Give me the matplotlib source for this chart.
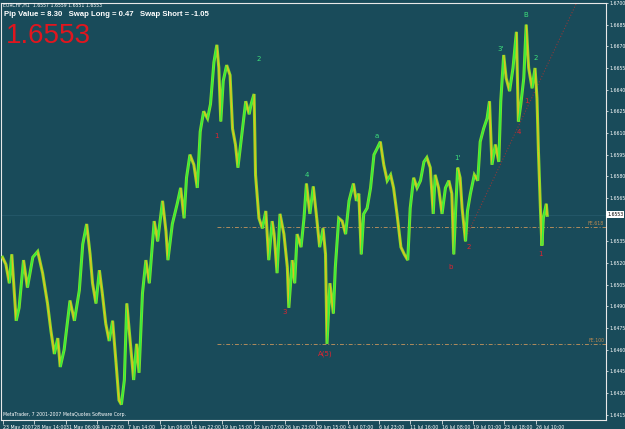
import matplotlib.pyplot as plt
from matplotlib.collections import LineCollection
import numpy as np

# EURCHF H1 price path (bar number, price)
bars = [3, 10, 17, 22, 31, 37, 46, 54, 65, 75, 85, 95, 102, 109, 116, 121, 129, 136, 141, 150,
        160, 167, 175, 182, 187, 194, 201, 207, 214, 221, 228, 235, 241, 246, 252, 257, 265, 271,
        277, 282, 289, 296, 303, 313, 320, 330, 337, 341, 350, 360, 367, 374, 379, 386, 394, 401,
        407, 414, 422, 428, 435, 441, 445, 449, 454, 461, 468, 473, 479, 484, 491, 500, 507, 511,
        517, 520, 527, 534, 541, 547, 554, 558, 564, 570, 578, 585, 588, 595, 600, 605, 613, 619,
        624, 631, 638, 645, 651, 658, 663, 666, 672, 679, 683, 690, 697, 704, 711, 720, 726, 731,
        736, 741, 748, 755, 762, 768, 775, 782, 789, 796, 802, 809, 817, 824, 831, 836, 843, 850,
        857, 864, 870, 877, 883, 887, 894, 901, 908, 915, 921, 925, 929, 933, 938, 942, 949, 953,
        959, 967, 974, 979, 986, 993, 998, 1003, 1010, 1017, 1021, 1027, 1032, 1039, 1046, 1053,
        1057, 1062, 1068, 1073, 1078, 1085, 1091, 1095, 1098, 1102, 1105, 1108, 1114, 1116]
prices = [1.6524, 1.6519, 1.6506, 1.6526, 1.6480, 1.6489, 1.6522, 1.6503, 1.6524, 1.6528,
          1.6513, 1.6492, 1.6473, 1.6457, 1.6468, 1.6448, 1.6460, 1.6480, 1.6494, 1.6480,
          1.6501, 1.6533, 1.6547, 1.6526, 1.6506, 1.6492, 1.6515, 1.6499, 1.6478, 1.6466,
          1.6480, 1.6451, 1.6425, 1.6422, 1.6439, 1.6492, 1.6462, 1.6439, 1.6464, 1.6444,
          1.6499, 1.6522, 1.6506, 1.6549, 1.6535, 1.6563, 1.6542, 1.6522, 1.6547, 1.6561,
          1.6572, 1.6551, 1.6579, 1.6595, 1.6588, 1.6572, 1.6611, 1.6625, 1.6620, 1.6630,
          1.6659, 1.6671, 1.6655, 1.6618, 1.6646, 1.6657, 1.6650, 1.6613, 1.6602, 1.6586,
          1.6606, 1.6632, 1.6623, 1.6630, 1.6637, 1.6581, 1.6551, 1.6544, 1.6556, 1.6522,
          1.6549, 1.6540, 1.6513, 1.6554, 1.6540, 1.6517, 1.6489, 1.6522, 1.6506, 1.6540,
          1.6531, 1.6551, 1.6575, 1.6554, 1.6573, 1.6551, 1.6531, 1.6544, 1.6526, 1.6464,
          1.6506, 1.6485, 1.6517, 1.6551, 1.6549, 1.6540, 1.6563, 1.6575, 1.6563, 1.6568,
          1.6526, 1.6554, 1.6558, 1.6572, 1.6595, 1.6599, 1.6604, 1.6588, 1.6577, 1.6581,
          1.6572, 1.6554, 1.6531, 1.6526, 1.6522, 1.6558, 1.6579, 1.6572, 1.6577, 1.6590,
          1.6593, 1.6586, 1.6554, 1.6581, 1.6572, 1.6554, 1.6572, 1.6577, 1.6568, 1.6526,
          1.6558, 1.6586, 1.6579, 1.6558, 1.6535, 1.6556, 1.6568, 1.6581, 1.6577, 1.6604,
          1.6613, 1.6620, 1.6632, 1.6588, 1.6602, 1.6590, 1.6632, 1.6664, 1.6648, 1.6639,
          1.6655, 1.6680, 1.6618, 1.6630, 1.6648, 1.6685, 1.6655, 1.6641, 1.6655, 1.6634,
          1.6597, 1.6558, 1.6532, 1.6551, 1.6561, 1.6553]

tick_bars = [4, 68, 132, 196, 260, 324, 388, 452, 516, 580, 644, 708, 772, 836, 900, 964, 1028, 1092]
tick_labels = ['23 May 2007', '28 May 14:00', '31 May 06:00', '4 Jun 22:00', '7 Jun 14:00',
               '12 Jun 06:00', '14 Jun 22:00', '19 Jun 15:00', '22 Jun 07:00', '26 Jun 23:00',
               '29 Jun 15:00', '4 Jul 07:00', '6 Jul 23:00', '11 Jul 16:00', '16 Jul 08:00',
               '19 Jul 01:00', '23 Jul 18:00', '26 Jul 10:00']
price_ticks = [1.6700, 1.6685, 1.6670, 1.6655, 1.6640, 1.6625, 1.6610, 1.6595, 1.6580, 1.6565,
               1.6535, 1.6520, 1.6505, 1.6490, 1.6475, 1.6460, 1.6445, 1.6430, 1.6415]

last_price = 1.6553
fe_levels = [1.6545, 1.6464]
fe_names = ['FE.618', 'FE.100']
fe_start = 441
trend_bars = [953, 1180]
trend_prices = [1.6540, 1.6703]

# Elliott wave labels (bar, price, text, colour)
green = '#3ee07a'
red = '#e02430'
waves = [(526, 1.6661, '2', green), (624, 1.6581, '4', green), (768, 1.6608, 'a', green),
         (932, 1.6593, "1'", green), (1020, 1.6668, "3'", green), (1073, 1.6692, 'B', green),
         (1093, 1.6662, '2', green),
         (441, 1.6608, '1', red), (579, 1.6486, '3', red), (663, 1.6457, 'A(5)', red),
         (918, 1.6517, 'b', red), (955, 1.6531, '2', red), (1059, 1.6611, '4', red),
         (1074, 1.6632, '1', red), (1102, 1.6526, '1', red)]

bg = '#194b5a'
fig = plt.figure(figsize=(6.25, 4.29), dpi=100, facecolor=bg)
ax = fig.add_axes([1 / 625, 1 - 420 / 429, 605 / 625, 417 / 429], facecolor=bg)
ax.set_xlim(0, 1236)
ax.set_ylim(1.64113, 1.66986)

# bid line
ax.axhline(last_price, color='#25596a', lw=0.6, zorder=1)

# FE levels
for lvl, name in zip(fe_levels, fe_names):
    ax.plot([fe_start, 1236], [lvl, lvl], color='#b08a5c', lw=0.7, ls=(0, (4, 2, 1, 2)), zorder=2)
    ax.text(1232, lvl + 0.00006, name, color='#c08a50', fontsize=3.3, ha='right', va='bottom')

# trend line
ax.plot(trend_bars, trend_prices, color='#8a3a3a', lw=0.8, ls=':', zorder=2)

# price path, coloured by direction
x = np.array(bars, dtype=float)
y = np.array(prices)
ax.plot(x, y, color='#7ee02c', lw=2.2, solid_joinstyle='miter', zorder=3)
segs = np.stack([np.column_stack([x[:-1], y[:-1]]), np.column_stack([x[1:], y[1:]])], axis=1)
cols = ['#30f040' if b >= a else '#e0c020' for a, b in zip(y[:-1], y[1:])]
ax.add_collection(LineCollection(segs, colors=cols, linewidths=1.0, zorder=4))

for bx, py, txt, c in waves:
    ax.text(bx, py, txt, color=c, fontsize=5, ha='center', va='center', zorder=5)

# axes styling
for s in ax.spines.values():
    s.set_color('#e8e8e8')
    s.set_linewidth(0.8)
ax.yaxis.tick_right()
ax.set_yticks(price_ticks)
ax.set_yticklabels([f'{p:.4f}' for p in price_ticks])
ax.tick_params(axis='y', colors='white', labelsize=3.3, length=1.5, width=0.5, pad=0.8)
ax.set_xticks(tick_bars)
ax.set_xticklabels(tick_labels)
ax.tick_params(axis='x', colors='white', labelsize=3.4, length=3, width=0.5, pad=0.5)
for lab in ax.get_xticklabels():
    lab.set_horizontalalignment('left')

# current price box on the price scale
ax.text(1.002, (last_price - 1.64113) / (1.66986 - 1.64113), f'{last_price:.4f}',
        transform=ax.transAxes, fontsize=3.3, color='black', va='center', ha='left',
        bbox=dict(boxstyle='square,pad=0.2', fc='white', ec='none'))

# header texts
fig.text(3 / 625, 1 - 5 / 429, 'EURCHF,H1  1.6557 1.6559 1.6551 1.6553', color='white',
         fontsize=3.3, va='center', ha='left')
fig.text(4 / 625, 1 - 14 / 429, 'Pip Value = 8.30   Swap Long = 0.47   Swap Short = -1.05',
         color='white', fontsize=5.6, va='center', ha='left', family='Liberation Sans', weight='bold')
fig.text(6 / 625, 1 - 36 / 429, '1.6553', color='#e0161e', fontsize=20, va='center', ha='left',
         family='Liberation Sans')
ax.text(0.004, 0.006, 'MetaTrader, 7 2001-2007 MetaQuotes Software Corp.', transform=ax.transAxes,
        color='white', fontsize=3.3, va='bottom', ha='left')

fig.savefig('out.png', dpi=100, facecolor=bg)
